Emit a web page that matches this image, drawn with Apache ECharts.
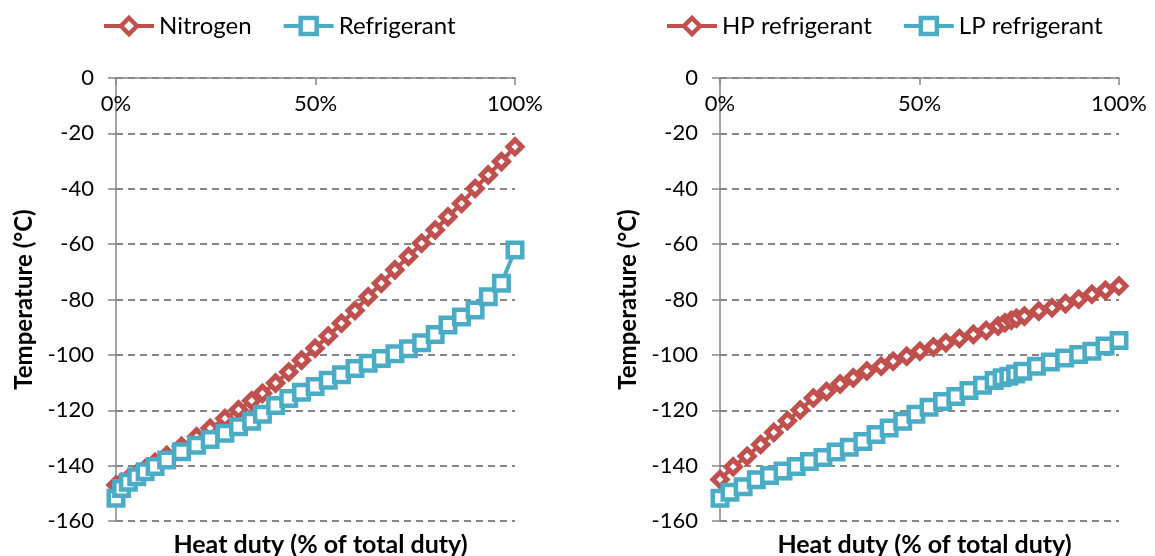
<!DOCTYPE html>
<html><head><meta charset="utf-8">
<script src="https://cdn.jsdelivr.net/npm/echarts@6/dist/echarts.min.js"></script>
<style>html,body{margin:0;padding:0;background:#fff}#c{width:1155px;height:556px}</style>
</head><body><div id="c"></div>
<script>
// Left chart: shared heat-duty positions (% of total duty)
const dutyLeft = [0, 1.4, 3.1, 5.2, 7.3, 9.8, 12.7, 16.4, 20.2, 23.6, 27.3, 30.7, 34.0, 36.7, 40.0, 43.3, 46.5, 49.9, 53.2, 56.5, 59.9, 63.2, 66.5, 69.9, 73.3, 76.6, 80.0, 83.2, 86.6, 90.0, 93.3, 96.6, 100];
const nitrogen = [-147, -146, -144.6, -142.9, -141.1, -138.8, -136.3, -133, -129.6, -126.5, -123, -119.8, -116.6, -113.9, -110.2, -106.2, -101.9, -97.6, -93.2, -88.6, -84.0, -79.0, -74.1, -69.3, -64.5, -59.7, -54.9, -50.1, -45.3, -39.9, -35.0, -30.2, -24.8];
const refrigerant = [-151.8, -148.3, -146.0, -144.0, -142.2, -140.3, -138.0, -135.0, -132.6, -130.6, -128.3, -126.0, -124.0, -121.4, -118.3, -115.8, -113.5, -111.4, -109.2, -107.2, -104.9, -103.0, -101.3, -99.6, -97.8, -95.6, -92.6, -89.2, -86.3, -83.8, -79.0, -74.1, -62.1];
// Right chart
const dutyHP = [0, 3.3, 6.8, 10.2, 13.5, 16.9, 20.1, 23.4, 26.7, 30.1, 33.4, 36.8, 40.4, 43.4, 46.8, 50.1, 53.5, 56.6, 60.0, 63.5, 66.7, 69.7, 71.4, 73.0, 74.3, 76.3, 79.9, 83.2, 86.6, 89.9, 93.2, 96.6, 100];
const hpRefrigerant = [-145, -140.4, -136.6, -132.4, -128.0, -123.8, -119.9, -115.6, -113.2, -110.5, -108.3, -105.8, -104.1, -102.3, -100.5, -98.7, -97.2, -95.6, -94.1, -92.6, -91.2, -89.6, -88.4, -87.5, -86.8, -86.0, -84.2, -83.0, -81.5, -79.9, -78.1, -76.7, -75.1];
const dutyLP = [0, 2.5, 5.8, 9.1, 12.4, 15.8, 19.1, 22.4, 25.8, 29.1, 32.4, 35.8, 39.1, 42.4, 45.8, 49.1, 52.4, 55.8, 59.1, 62.4, 65.8, 68.7, 70.7, 72.4, 74.1, 75.9, 79.3, 82.8, 86.4, 89.9, 93.2, 96.5, 100];
const lpRefrigerant = [-151.8, -149.6, -147.6, -145.1, -143.6, -141.9, -140.3, -138.5, -137.1, -135.1, -133.4, -131.3, -128.8, -126.4, -124.0, -121.4, -118.9, -116.8, -115.0, -112.9, -111.0, -109.3, -108.3, -107.7, -106.9, -105.9, -104.1, -102.6, -101.1, -99.9, -98.7, -96.8, -94.8];

const xMin = 0, xMax = 100, xStep = 50;
const yMin = -160, yMax = 0, yStep = 20;
const xTitle = 'Heat duty (% of total duty)';
const yTitle = 'Temperature (°C)';

const RED = '#C0504D', BLUE = '#4BACC6', GREY = '#868686';
const FONT = 'Lato';
const zip = (xs, ys) => xs.map((x, i) => [x, ys[i]]);

function xAx(gi) {
  return {
    gridIndex: gi, type: 'value', min: xMin, max: xMax, interval: xStep, position: 'top',
    axisLine: { show: true, onZero: false, lineStyle: { color: GREY, width: 1.5 } },
    axisTick: { show: true, inside: true, length: 7, lineStyle: { color: GREY, width: 1.5 } },
    axisLabel: { inside: true, margin: 15, fontSize: 22, fontFamily: FONT, color: '#000', formatter: '{value}%' },
    splitLine: { show: false }
  };
}
function yAx(gi) {
  return {
    gridIndex: gi, type: 'value', min: yMin, max: yMax, interval: yStep,
    name: yTitle, nameLocation: 'middle', nameGap: 80,
    nameTextStyle: { fontSize: 24, fontWeight: 'bold', fontFamily: FONT, color: '#000' },
    axisLine: { show: true, onZero: false, lineStyle: { color: GREY, width: 1.5 } },
    axisTick: { show: true, length: 8, lineStyle: { color: GREY, width: 1.5 } },
    axisLabel: { margin: 22, fontSize: 22, fontFamily: FONT, color: '#000' },
    splitLine: { show: true, lineStyle: { color: GREY, width: 1.8, type: [7, 5] } }
  };
}
function ser(name, gi, data, color, symbol, size, bw) {
  return {
    name, type: 'line', xAxisIndex: gi, yAxisIndex: gi, data, color,
    symbol, symbolSize: size, showSymbol: true,
    lineStyle: { color, width: 4 },
    itemStyle: { color: '#fff', borderColor: color, borderWidth: bw },
    animation: false
  };
}
const legendBase = {
  orient: 'horizontal', top: 9, itemWidth: 50, itemHeight: 20, itemGap: 30,
  lineStyle: { width: 4 },
  itemStyle: { borderWidth: 4.5 },
  textStyle: { fontSize: 24, fontFamily: FONT, color: '#000' }
};
const titleStyle = { fontSize: 25, fontWeight: 'bold', fontFamily: FONT, color: '#000' };
const chart = echarts.init(document.getElementById('c'));
chart.setOption({
  backgroundColor: '#fff',
  animation: false,
  grid: [
    { left: 116, top: 78, width: 399, height: 443 },
    { left: 720, top: 78, width: 399, height: 443 }
  ],
  title: [
    { text: xTitle, left: 315.5, top: 527, textAlign: 'center', textStyle: titleStyle },
    { text: xTitle, left: 919.5, top: 527, textAlign: 'center', textStyle: titleStyle }
  ],
  legend: [
    Object.assign({}, legendBase, { left: 97, data: ['Nitrogen', 'Refrigerant'] }),
    Object.assign({}, legendBase, { left: 660, data: ['HP refrigerant', 'LP refrigerant'] })
  ],
  xAxis: [xAx(0), xAx(1)],
  yAxis: [yAx(0), yAx(1)],
  series: [
    ser('Nitrogen', 0, zip(dutyLeft, nitrogen), RED, 'diamond', 14, 5),
    ser('Refrigerant', 0, zip(dutyLeft, refrigerant), BLUE, 'rect', 14.5, 4.5),
    ser('HP refrigerant', 1, zip(dutyHP, hpRefrigerant), RED, 'diamond', 14, 5),
    ser('LP refrigerant', 1, zip(dutyLP, lpRefrigerant), BLUE, 'rect', 14.5, 4.5)
  ]
});
</script></body></html>
